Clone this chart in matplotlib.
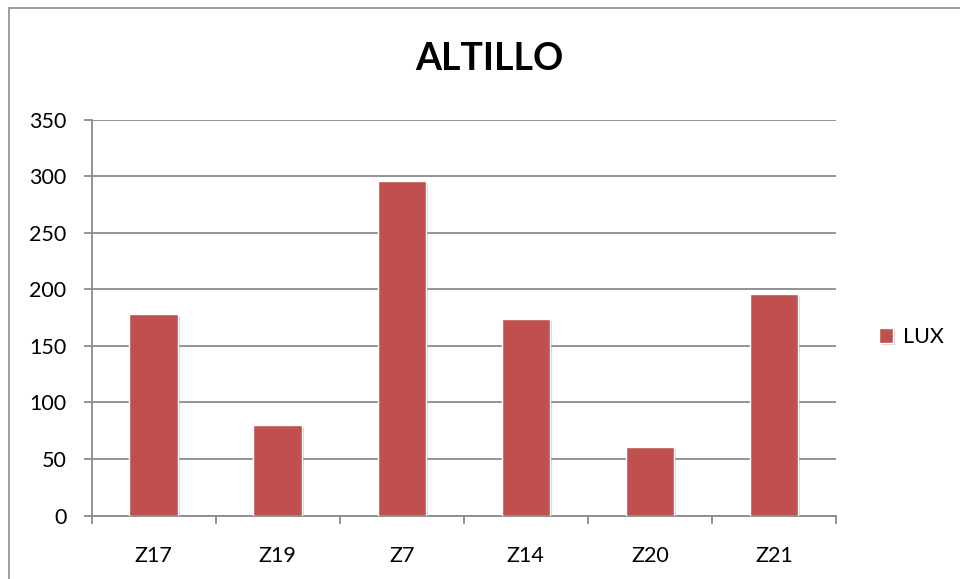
import matplotlib.pyplot as plt
import matplotlib.patheffects as pe
from matplotlib.patches import Rectangle

categories = ["Z17", "Z19", "Z7", "Z14", "Z20", "Z21"]
lux = [178, 80, 296, 174, 61, 196]
y_ticks = [0, 50, 100, 150, 200, 250, 300, 350]

BAR_COLOR = "#C0504D"
GRID_COLOR = "#8a8a8a"

plt.rcParams["font.family"] = ["Lato", "DejaVu Sans"]

W, H = 960, 579
fig = plt.figure(figsize=(W / 100, H / 100), dpi=100)

# plot area in pixel terms
left, right, top, bottom = 91.5, 836, 119.5, 515.6
ax = fig.add_axes([left / W, 1 - bottom / H, (right - left) / W, (bottom - top) / H])

x = range(len(categories))
bars = ax.bar(x, lux, width=0.39, color=BAR_COLOR, edgecolor="white",
              linewidth=1.0, label="LUX", zorder=3)
for b in bars:
    b.set_path_effects([
        pe.SimplePatchShadow(offset=(1.5, -1.5), shadow_rgbFace="#7f7f7f", alpha=0.35),
        pe.Normal(),
    ])

ax.set_xlim(-0.5, len(categories) - 0.5)
ax.set_ylim(0, 350)
ax.set_yticks(y_ticks)
ax.set_xticks([i - 0.5 for i in range(len(categories) + 1)], minor=False)
ax.set_xticklabels([])
ax.set_xticks(list(x), minor=True)
ax.set_xticklabels(categories, minor=True)

ax.grid(axis="y", color=GRID_COLOR, linewidth=1.3, zorder=0)
ax.set_axisbelow(True)

for s in ["top", "right"]:
    ax.spines[s].set_visible(False)
for s in ["left", "bottom"]:
    ax.spines[s].set_color(GRID_COLOR)
    ax.spines[s].set_linewidth(1.3)

ax.tick_params(axis="y", which="major", length=6, width=1.3, color=GRID_COLOR,
               labelsize=15.5, pad=12)
ax.tick_params(axis="x", which="major", length=6, width=1.3, color=GRID_COLOR)
ax.tick_params(axis="x", which="minor", length=0, labelsize=15.5, pad=22)

# chart title
fig.text(489 / W, 1 - 59 / H, "ALTILLO", ha="center", va="center",
         fontsize=27, fontweight="bold")

# legend at the right
fig.legend(handles=[bars], labels=["LUX"], loc="center left",
           bbox_to_anchor=(879 / W, 1 - 337 / H), frameon=False,
           fontsize=15.5, borderpad=0, borderaxespad=0,
           handlelength=0.65, handleheight=0.65, handletextpad=0.45)

# outer chart border
fig.add_artist(Rectangle((9 / W, -0.1), 2, 1 - 7.5 / H + 0.1,
                         transform=fig.transFigure, fill=False,
                         edgecolor="#8c8c8c", linewidth=1.2))

fig.savefig("out.png", dpi=100)
